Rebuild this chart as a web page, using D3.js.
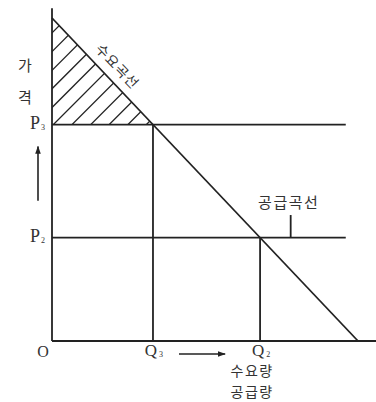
<!DOCTYPE html>
<html>
<head>
<meta charset="utf-8">
<script src="https://cdn.jsdelivr.net/npm/d3@7"></script>
<style>
  body { margin: 0; background: #fff; }
  svg { display: block; }
  .ln { stroke: #222; stroke-width: 1.8; fill: none; }
  .hatch { stroke: #222; stroke-width: 1.3; }
  .kr { font-family: "Noto Sans CJK KR", sans-serif; fill: #333; font-size: 15px; }
  .lat { font-family: "Liberation Serif", "DejaVu Serif", serif; fill: #333; }
</style>
</head>
<body>
<script>
var w = 376,
    h = 402;

// demand line endpoints (quantity, price)
var demand = [[0, 100], [100, 0]];
// price levels and their quantities on the demand line
var prices = [{name: '3', p: 67}, {name: '2', p: 32}];
var quantities = [{name: '3', q: 33}, {name: '2', q: 68}];
var axisMax = {q: 106, p: 103};
var lineEnd = 96;          // where the horizontal price lines stop
var supplyMark = {q: 78, top: 39};
// hatch lines: price where each one meets the price axis (45 deg)
var hatchStarts = [95.4, 89.6, 83.8, 78.1, 72.3, 66.6, 60.8, 55, 49.3, 43.5, 37.8];
var qLabelLines = ['수요량', '공급량'];

var x = d3.scaleLinear().domain([0, 100]).range([52, 358]);
var y = d3.scaleLinear().domain([0, 100]).range([341, 18]);

var svg = d3.select('body').append('svg')
    .attr('width', w)
    .attr('height', h);

// hatched area under demand above P3 (clip)
var p3 = prices[0].p;
svg.append('clipPath').attr('id', 'tri')
    .append('path')
    .attr('d', d3.line()([[x(0), y(100)], [x(0), y(p3)], [x(100 - p3), y(p3)]]));

var hg = svg.append('g').attr('clip-path', 'url(#tri)');
hatchStarts.forEach(function(c) {
    var y0 = y(c), x0 = x(0);
    hg.append('line').attr('class', 'hatch')
        .attr('x1', x0 - 5).attr('y1', y0 + 5)
        .attr('x2', x0 + 200).attr('y2', y0 - 200);
});

// axes
svg.append('line').attr('class', 'ln')
    .attr('x1', x(0)).attr('y1', y(0)).attr('x2', x(0)).attr('y2', y(axisMax.p));
svg.append('line').attr('class', 'ln')
    .attr('x1', x(0)).attr('y1', y(0)).attr('x2', x(axisMax.q)).attr('y2', y(0));

// price lines
prices.forEach(function(d) {
    svg.append('line').attr('class', 'ln')
        .attr('x1', x(0)).attr('y1', y(d.p)).attr('x2', x(lineEnd)).attr('y2', y(d.p));
});
// quantity verticals
quantities.forEach(function(d, i) {
    svg.append('line').attr('class', 'ln')
        .attr('x1', x(d.q)).attr('y1', y(0)).attr('x2', x(d.q)).attr('y2', y(prices[i].p));
});

// demand line
svg.append('path').attr('class', 'ln')
    .attr('d', d3.line().x(function(d) { return x(d[0]); }).y(function(d) { return y(d[1]); })(demand));

// supply curve marker
svg.append('line').attr('class', 'ln')
    .attr('x1', x(supplyMark.q)).attr('y1', y(prices[1].p))
    .attr('x2', x(supplyMark.q)).attr('y2', y(supplyMark.top));
svg.append('text').attr('class', 'kr')
    .attr('x', x(supplyMark.q) - 2).attr('y', y(supplyMark.top) - 7)
    .attr('text-anchor', 'middle').style('letter-spacing', '1.5px')
    .text('공급곡선');

// demand curve label rotated along line
var ang = Math.atan2(y(0) - y(100), x(100) - x(0));
var fq = 18, fx = x(fq), fy = y(100 - fq);
var off = 15;
svg.append('text').attr('class', 'kr')
    .attr('transform', 'translate(' + (fx + off * Math.sin(ang)) + ',' + (fy - off * Math.cos(ang)) + ') rotate(' + (ang * 180 / Math.PI) + ')')
    .attr('text-anchor', 'middle').attr('dominant-baseline', 'central')
    .style('font-size', '14px').style('letter-spacing', '1px')
    .text('수요곡선');

// price axis label
svg.append('text').attr('class', 'kr').attr('x', 25).attr('y', 71)
    .attr('text-anchor', 'middle').text('가');
svg.append('text').attr('class', 'kr').attr('x', 25).attr('y', 103)
    .attr('text-anchor', 'middle').text('격');

// P labels
prices.forEach(function(d) {
    var t = svg.append('text').attr('class', 'lat')
        .attr('x', x(0) - 22).attr('y', y(d.p) + 4)
        .style('font-size', '18px');
    t.append('tspan').text('P');
    t.append('tspan').attr('dy', 1).attr('dx', 1).style('font-size', '8px').text(d.name);
});

// Q labels and origin
svg.append('text').attr('class', 'lat')
    .attr('x', x(0) - 9).attr('y', y(0) + 16)
    .attr('text-anchor', 'middle').style('font-size', '16px').text('O');
quantities.forEach(function(d) {
    var t = svg.append('text').attr('class', 'lat')
        .attr('x', x(d.q) + 1).attr('y', y(0) + 15)
        .attr('text-anchor', 'middle').style('font-size', '17px');
    t.append('tspan').text('Q');
    t.append('tspan').attr('dy', 1).attr('dx', 2).style('font-size', '8px').text(d.name);
});

// arrows
svg.append('defs').append('marker')
    .attr('id', 'ah').attr('viewBox', '0 0 10 10')
    .attr('refX', 9).attr('refY', 5)
    .attr('markerWidth', 5).attr('markerHeight', 5)
    .attr('orient', 'auto')
    .append('path').attr('d', 'M0,1.5L10,5L0,8.5Z').attr('fill', '#222');

svg.append('line').attr('stroke', '#222').attr('stroke-width', 1.6)
    .attr('x1', x(0) - 14).attr('y1', y(prices[1].p) - 37)
    .attr('x2', x(0) - 14).attr('y2', y(prices[0].p) + 22)
    .attr('marker-end', 'url(#ah)');
svg.append('line').attr('stroke', '#222').attr('stroke-width', 1.6)
    .attr('x1', x(quantities[0].q) + 26).attr('y1', y(0) + 13)
    .attr('x2', x(quantities[1].q) - 35).attr('y2', y(0) + 13)
    .attr('marker-end', 'url(#ah)');

// quantity axis label, two lines
qLabelLines.forEach(function(s, i) {
    svg.append('text').attr('class', 'kr')
        .attr('x', x(quantities[1].q) - 8)
        .attr('y', y(0) + 35 + i * 20.5)
        .attr('text-anchor', 'middle')
        .style('font-size', '14px').style('letter-spacing', '1.5px')
        .text(s);
});
</script>
</body>
</html>
